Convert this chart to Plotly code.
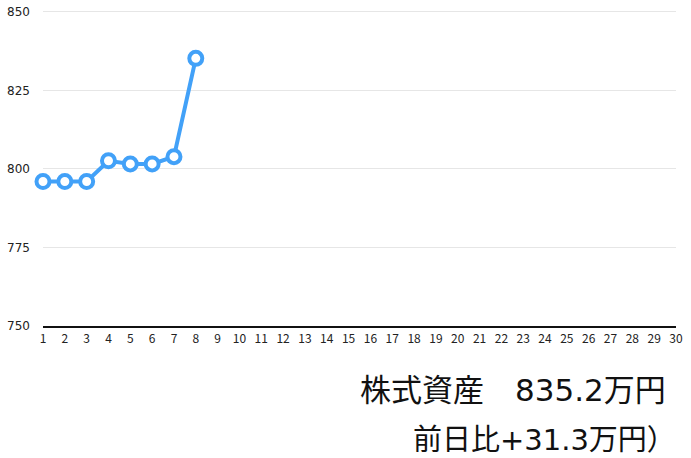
import plotly.graph_objects as go

#   Daily stock assets (万円)
days = list(range(1, 31))
day_values = [1, 2, 3, 4, 5, 6, 7, 8]
assets = [796.0, 796.0, 796.0, 802.6, 801.6, 801.6, 803.9, 835.2]

y_ticks = [750, 775, 800, 825, 850]

title_line = "株式資産　835.2万円"
diff_line = "前日比+31.3万円）"

cjk_font = "Noto Sans CJK JP"
text_font = "DejaVu Sans, Noto Sans CJK JP"
blue = "#42a1f8"

fig = go.Figure()
fig.add_trace(go.Scatter(
    x=day_values, y=assets,
    mode="lines+markers",
    line=dict(color=blue, width=4),
    marker=dict(size=13, color="white", line=dict(color=blue, width=4)),
    cliponaxis=False,
    showlegend=False,
))

fig.update_xaxes(
    range=[1, 30], tickvals=days, ticktext=[str(d) for d in days],
    showgrid=False, zeroline=False, automargin=False,
    showline=True, linecolor="#111111", linewidth=2,
    tickfont=dict(size=12, color="#222222", family=cjk_font),
    ticks="", ticklabelstandoff=1, ticklabeloverflow="allow",
)
#   top of range a touch above 850 so the 850 gridline is not clipped
fig.update_yaxes(
    range=[750, 850.6], tickvals=y_ticks, automargin=False,
    showgrid=True, gridcolor="#e6e6e6", gridwidth=1, zeroline=False,
    showline=False,
    tickfont=dict(size=12, color="#222222", family=text_font),
    ticklabelstandoff=12, ticklabeloverflow="allow",
)

#   Summary text under the chart
fig.add_annotation(
    text=title_line, xref="paper", yref="paper", x=0.988, y=-0.204,
    xanchor="right", yanchor="middle", showarrow=False,
    font=dict(size=31, color="#111111", family=text_font),
)
fig.add_annotation(
    text=diff_line, xref="paper", yref="paper", x=0.983, y=-0.36,
    xanchor="right", yanchor="middle", showarrow=False, xshift=13,
    font=dict(size=29, color="#111111", family=text_font),
)

fig.update_layout(
    width=691, height=458,
    margin=dict(l=43, r=15, t=10, b=132),
    paper_bgcolor="white", plot_bgcolor="white",
)

#   drop the default page margin so the figure fills the window
fig.write_html(
    "out.html",
    config={"displayModeBar": False},
    post_script="document.body.style.margin = '0';",
)
